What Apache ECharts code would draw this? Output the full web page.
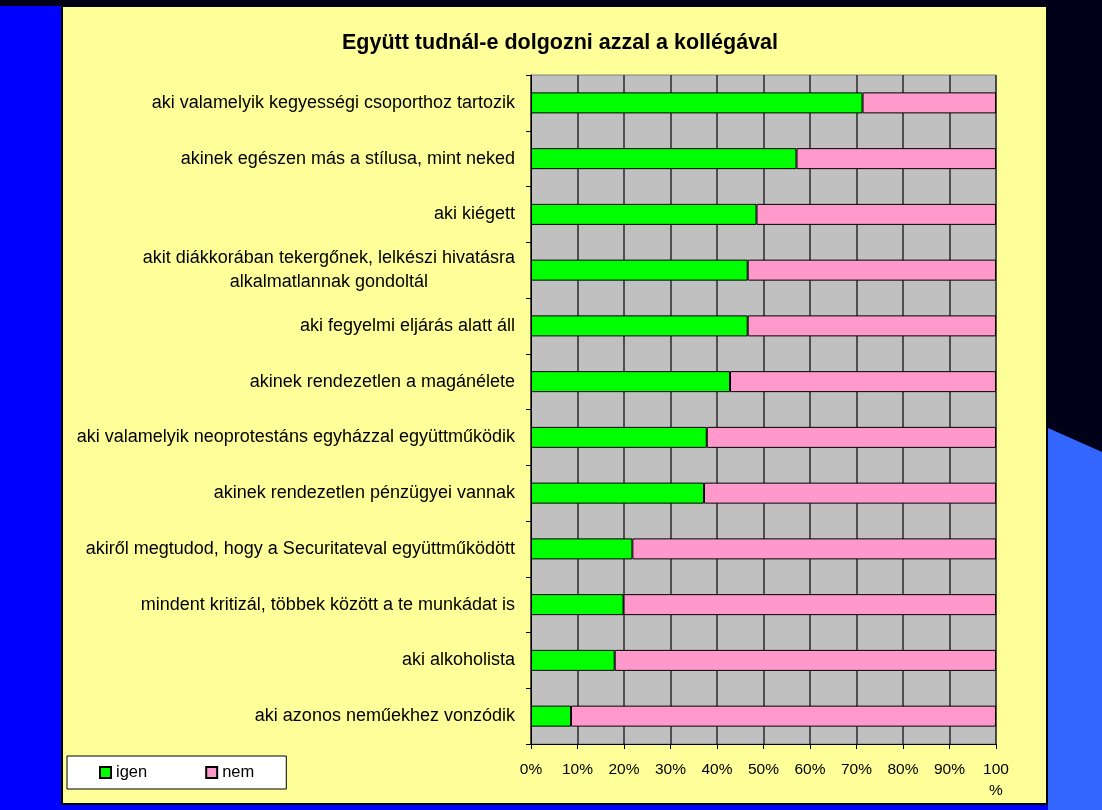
<!DOCTYPE html>
<html>
<head>
<meta charset="utf-8">
<script src="https://cdn.jsdelivr.net/npm/echarts@6/dist/echarts.min.js"></script>
<style>
  html, body { margin: 0; padding: 0; }
  #chart { width: 1102px; height: 810px; }
</style>
</head>
<body>
<div id="chart"></div>
<script>
var categories = [
    'aki valamelyik kegyességi csoporthoz tartozik',
    'akinek egészen más a stílusa, mint neked',
    'aki kiégett',
    'akit diákkorában tekergőnek, lelkészi hivatásra\nalkalmatlannak gondoltál',
    'aki fegyelmi eljárás alatt áll',
    'akinek rendezetlen a magánélete',
    'aki valamelyik neoprotestáns egyházzal együttműködik',
    'akinek rendezetlen pénzügyei vannak',
    'akiről megtudod, hogy a Securitateval együttműködött',
    'mindent kritizál, többek között a te munkádat is',
    'aki alkoholista',
    'aki azonos neműekhez vonzódik'
];
var igen = [71.3, 57.1, 48.5, 46.6, 46.6, 42.8, 37.8, 37.2, 21.8, 19.9, 18.0, 8.6];
var nem = [28.7, 42.9, 51.5, 53.4, 53.4, 57.2, 62.2, 62.8, 78.2, 80.1, 82.0, 91.4];
var xTicks = [0, 10, 20, 30, 40, 50, 60, 70, 80, 90, 100];

document.addEventListener('DOMContentLoaded', function() {
    var myChart = echarts.init(document.getElementById('chart'));
    var font = '"Liberation Sans", Arial, sans-serif';

    var option = {
        backgroundColor: '#000018',
        textStyle: { fontFamily: font },
        graphic: [
            { type: 'rect', z: -10, shape: { x: 0, y: 6, width: 62, height: 804 }, style: { fill: '#0000ff' } },
            { type: 'rect', z: -10, shape: { x: 0, y: 805, width: 1048, height: 5 }, style: { fill: '#0000ff' } },
            { type: 'polygon', z: -10, shape: { points: [[1048, 428], [1102, 452], [1102, 810], [1048, 810]] }, style: { fill: '#3366ff' } },
            { type: 'rect', z: -9, shape: { x: 62, y: 6, width: 985, height: 798 }, style: { fill: '#ffff99', stroke: '#000', lineWidth: 2 } }
        ],
        title: {
            text: 'Együtt tudnál-e dolgozni azzal a kollégával',
            left: 555,
            top: 27,
            textAlign: 'center',
            textStyle: { fontFamily: font, fontSize: 21.5, fontWeight: 'bold', color: '#000' }
        },
        legend: {
            data: ['igen', 'nem'],
            left: 67,
            top: 756,
            padding: [8, 32, 8, 32],
            itemGap: 58,
            itemWidth: 11,
            itemHeight: 11,
            icon: 'rect',
            backgroundColor: '#fff',
            borderColor: '#000',
            borderWidth: 1,
            textStyle: { fontFamily: font, fontSize: 16.5, color: '#000' }
        },
        grid: {
            left: 531,
            right: 106,
            top: 75,
            bottom: 66,
            show: true,
            backgroundColor: '#c0c0c0',
            borderColor: '#808080',
            borderWidth: 1
        },
        xAxis: {
            type: 'value',
            min: 0,
            max: 100,
            interval: 10,
            axisLine: { show: true, lineStyle: { color: '#000', width: 1 } },
            axisTick: { show: true, length: 5, lineStyle: { color: '#000' } },
            splitLine: { show: true, lineStyle: { color: '#2a2a2a', width: 1.5 } },
            axisLabel: {
                margin: 15,
                fontFamily: font,
                fontSize: 15.5,
                lineHeight: 21,
                color: '#000',
                formatter: function(v) {
                    return xTicks.indexOf(v) === xTicks.length - 1 ? v + '\n%' : v + '%';
                }
            }
        },
        yAxis: {
            type: 'category',
            data: categories,
            inverse: true,
            axisLine: { show: true, lineStyle: { color: '#000', width: 1 } },
            axisTick: { show: true, length: 5, lineStyle: { color: '#000' } },
            axisLabel: {
                margin: 16,
                fontFamily: font,
                fontSize: 18,
                color: '#000',
                lineHeight: 24,
                formatter: function(v) {
                    var parts = v.split('\n');
                    if (parts.length > 1) {
                        return '{a|' + parts[0] + '}\n{c|' + parts[1] + '}';
                    }
                    return v;
                },
                rich: {
                    a: { fontFamily: font, fontSize: 18, color: '#000', lineHeight: 24 },
                    c: { fontFamily: font, fontSize: 18, color: '#000', lineHeight: 24, align: 'center' }
                }
            }
        },
        series: [
            {
                name: 'igen',
                type: 'bar',
                stack: 'total',
                barWidth: 21,
                data: igen,
                itemStyle: { color: '#00ff00', borderColor: '#000', borderWidth: 1 }
            },
            {
                name: 'nem',
                type: 'bar',
                stack: 'total',
                barWidth: 21,
                data: nem,
                itemStyle: { color: '#ff99cc', borderColor: '#000', borderWidth: 1 }
            }
        ]
    };

    myChart.setOption(option);
});
</script>
</body>
</html>
